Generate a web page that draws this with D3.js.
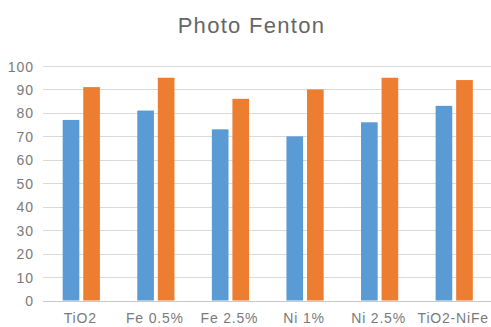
<!DOCTYPE html>
<html>
<head>
<meta charset="utf-8">
<script src="https://cdn.jsdelivr.net/npm/d3@7"></script>
<style>
  html, body { margin: 0; padding: 0; background: #fff; }
  svg { display: block; font-family: "Liberation Sans", Arial, Helvetica, sans-serif; }
</style>
</head>
<body>
<svg id="chart" width="491" height="327"></svg>
<script>
// Degradation (%) per catalyst, two runs each
const categories = ["TiO2", "Fe 0.5%", "Fe 2.5%", "Ni 1%", "Ni 2.5%", "TiO2-NiFe"];
const seriesNames = ["A", "B"];
const seriesA = [77, 81, 73, 70, 76, 83];
const seriesB = [91, 95, 86, 90, 95, 94];
const yTicks = [0, 10, 20, 30, 40, 50, 60, 70, 80, 90, 100];
const title = "Photo Fenton";

const colors = { A: "#5b9bd5", B: "#ed7d31" };

const svg = d3.select("#chart");
const W = 491, H = 327;

const y = d3.scaleLinear().domain([0, 100]).range([300.5, 66]);
const x0 = d3.scaleBand().domain(categories).range([44, 491.5]).paddingInner(0).paddingOuter(0);
const groupHalf = 18.6;
const x1 = d3.scaleBand().domain(seriesNames)
  .range([x0.bandwidth() / 2 - groupHalf, x0.bandwidth() / 2 + groupHalf])
  .paddingInner(0.19);

// Title
svg.append("text")
  .attr("x", 251.5).attr("y", 33)
  .attr("text-anchor", "middle")
  .attr("font-size", 22)
  .attr("letter-spacing", 1.3)
  .attr("fill", "#666")
  .text(title);

// Gridlines
svg.append("g").selectAll("line")
  .data(yTicks.filter(d => d !== 0))
  .join("line")
  .attr("x1", 43).attr("x2", W)
  .attr("y1", d => Math.round(y(d)) + 0.5).attr("y2", d => Math.round(y(d)) + 0.5)
  .attr("stroke", "#d9d9d9").attr("stroke-width", 1);

// Y axis labels
const yAxis = d3.axisLeft(y).tickValues(yTicks).tickSize(0).tickPadding(0);
const gy = svg.append("g").attr("transform", "translate(34,0)").call(yAxis);
gy.select(".domain").remove();
gy.selectAll("text")
  .attr("font-size", 14)
  .attr("letter-spacing", 1)
  .attr("font-family", "Liberation Sans, Arial, sans-serif")
  .attr("fill", "#7a7a7a")
  .attr("dy", "0.36em");

// Bars
const groups = svg.append("g").selectAll("g")
  .data(categories.map((c, i) => ({ c, vals: [{ k: "A", v: seriesA[i] }, { k: "B", v: seriesB[i] }] })))
  .join("g")
  .attr("transform", d => `translate(${x0(d.c)},0)`);

groups.selectAll("rect")
  .data(d => d.vals)
  .join("rect")
  .attr("x", d => x1(d.k))
  .attr("width", x1.bandwidth())
  .attr("y", d => y(d.v))
  .attr("height", d => y(0) - y(d.v))
  .attr("fill", d => colors[d.k]);

// Baseline
svg.append("line")
  .attr("x1", 43).attr("x2", W)
  .attr("y1", Math.round(y(0)) + 0.5).attr("y2", Math.round(y(0)) + 0.5)
  .attr("stroke", "#c8c8c8").attr("stroke-width", 1);

// X axis labels
const xAxis = d3.axisBottom(x0).tickSize(0).tickPadding(0);
const gx = svg.append("g").attr("transform", "translate(0,313)").call(xAxis);
gx.select(".domain").remove();
gx.selectAll("text")
  .attr("font-size", 14)
  .attr("letter-spacing", 0.8)
  .attr("font-family", "Liberation Sans, Arial, sans-serif")
  .attr("fill", "#7a7a7a")
  .attr("dy", "0.71em")
  .attr("dx", -1);
</script>
</body>
</html>
